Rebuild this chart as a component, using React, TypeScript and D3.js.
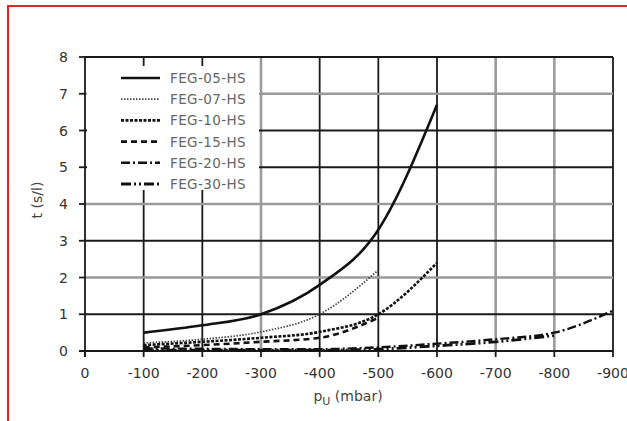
import React, { useEffect, useRef } from 'react'
import * as d3 from 'd3'

// pressure steps (mbar) and measured times t (s/l)
const xTicks = [0, -100, -200, -300, -400, -500, -600, -700, -800, -900]
const yTicks = [0, 1, 2, 3, 4, 5, 6, 7, 8]

const feg05 = [
  { p: -100, t: 0.5 }, { p: -200, t: 0.7 }, { p: -300, t: 1.0 },
  { p: -400, t: 1.8 }, { p: -500, t: 3.3 }, { p: -600, t: 6.7 },
]
const feg07 = [
  { p: -100, t: 0.22 }, { p: -200, t: 0.32 }, { p: -300, t: 0.52 },
  { p: -400, t: 1.0 }, { p: -500, t: 2.2 },
]
const feg10 = [
  { p: -100, t: 0.16 }, { p: -200, t: 0.25 }, { p: -300, t: 0.36 },
  { p: -400, t: 0.52 }, { p: -500, t: 1.0 }, { p: -600, t: 2.4 },
]
const feg15 = [
  { p: -100, t: 0.1 }, { p: -200, t: 0.16 }, { p: -300, t: 0.25 },
  { p: -400, t: 0.36 }, { p: -500, t: 0.9 },
]
const feg20 = [
  { p: -100, t: 0.07 }, { p: -200, t: 0.06 }, { p: -300, t: 0.05 },
  { p: -400, t: 0.05 }, { p: -500, t: 0.1 }, { p: -600, t: 0.2 },
  { p: -700, t: 0.32 }, { p: -800, t: 0.5 }, { p: -900, t: 1.1 },
]
const feg30 = [
  { p: -100, t: 0.03 }, { p: -200, t: 0.02 }, { p: -300, t: 0.02 },
  { p: -400, t: 0.02 }, { p: -500, t: 0.05 }, { p: -600, t: 0.14 },
  { p: -700, t: 0.25 }, { p: -800, t: 0.42 },
]

const seriesNames = ['FEG-05-HS', 'FEG-07-HS', 'FEG-10-HS', 'FEG-15-HS', 'FEG-20-HS', 'FEG-30-HS']
const seriesData = [feg05, feg07, feg10, feg15, feg20, feg30]

// gridlines drawn lighter in the original
const grayX = [-300, -700, -800]
const grayY = [2, 4, 7]

const styles = [
  { dash: null, width: 2.6, color: '#111' },
  { dash: '1.5 1.5', width: 1.7, color: '#444' },
  { dash: '3 1.5', width: 2.6, color: '#111' },
  { dash: '6 4', width: 2.6, color: '#111' },
  { dash: '9 3 2 3', width: 2.4, color: '#111' },
  { dash: '10 3 2 3 2 3', width: 2.8, color: '#111' },
]

export default function App() {
  const svgRef = useRef<SVGSVGElement>(null)
  const width = 627
  const height = 421

  useEffect(() => {
    if (!svgRef.current) return
    const svg = d3.select(svgRef.current)
    svg.selectAll('*').remove()

    const x = d3.scaleLinear().domain([0, -900]).range([85, 613])
    const y = d3.scaleLinear().domain([0, 8]).range([351, 57])
    const font = '"DejaVu Sans", sans-serif'

    // outer red frame
    svg.append('rect')
      .attr('x', 8).attr('y', 6)
      .attr('width', 700).attr('height', 500)
      .attr('fill', 'white')
      .attr('stroke', '#e8202a')
      .attr('stroke-width', 2)

    // grid
    const grid = svg.append('g')
    xTicks.slice(1).forEach(v => {
      const gray = grayX.includes(v)
      grid.append('line')
        .attr('x1', x(v)).attr('x2', x(v))
        .attr('y1', y(8)).attr('y2', y(0))
        .attr('stroke', gray ? '#9a9a9a' : '#1a1a1a')
        .attr('stroke-width', gray ? 2.6 : 1.8)
    })
    yTicks.slice(1).forEach(v => {
      const gray = grayY.includes(v)
      grid.append('line')
        .attr('x1', x(0)).attr('x2', x(-900))
        .attr('y1', y(v)).attr('y2', y(v))
        .attr('stroke', gray ? '#9a9a9a' : '#1a1a1a')
        .attr('stroke-width', gray ? 2.6 : 1.8)
    })

    // axes + ticks
    svg.append('line')
      .attr('x1', x(0)).attr('x2', x(0)).attr('y1', y(8)).attr('y2', y(0) + 6)
      .attr('stroke', '#1a1a1a').attr('stroke-width', 1.8)
    svg.append('line')
      .attr('x1', x(0) - 6).attr('x2', x(-900)).attr('y1', y(0)).attr('y2', y(0))
      .attr('stroke', '#1a1a1a').attr('stroke-width', 1.8)
    yTicks.forEach(v => {
      svg.append('line')
        .attr('x1', x(0) - 6).attr('x2', x(0))
        .attr('y1', y(v)).attr('y2', y(v))
        .attr('stroke', '#1a1a1a').attr('stroke-width', 1.8)
      svg.append('text')
        .attr('x', 68).attr('y', y(v) + 5)
        .attr('text-anchor', 'end')
        .attr('font-family', font).attr('font-size', 14)
        .attr('fill', '#333')
        .text(v)
    })
    xTicks.forEach(v => {
      svg.append('line')
        .attr('x1', x(v)).attr('x2', x(v))
        .attr('y1', y(0)).attr('y2', y(0) + 6)
        .attr('stroke', '#1a1a1a').attr('stroke-width', 1.8)
      svg.append('text')
        .attr('x', x(v)).attr('y', 378)
        .attr('text-anchor', 'middle')
        .attr('font-family', font).attr('font-size', 14)
        .attr('fill', '#333')
        .text(v)
    })

    // axis titles
    const xt = svg.append('text')
      .attr('x', 348).attr('y', 401)
      .attr('text-anchor', 'middle')
      .attr('font-family', font).attr('font-size', 14)
      .attr('fill', '#444')
    xt.append('tspan').text('p')
    xt.append('tspan').attr('font-size', 11).attr('dy', 4).text('U')
    xt.append('tspan').attr('dy', -4).text(' (mbar)')

    svg.append('text')
      .attr('transform', 'translate(42,200) rotate(-90)')
      .attr('text-anchor', 'middle')
      .attr('font-family', font).attr('font-size', 14)
      .attr('fill', '#444')
      .text('t (s/l)')

    // legend
    svg.append('rect')
      .attr('x', 87).attr('y', 66)
      .attr('width', 172).attr('height', 124)
      .attr('fill', 'white')
    seriesNames.forEach((name, i) => {
      const ly = 78 + i * 21.2
      const st = styles[i]
      svg.append('line')
        .attr('x1', 121).attr('x2', 160)
        .attr('y1', ly).attr('y2', ly)
        .attr('stroke', st.color)
        .attr('stroke-width', st.width)
        .attr('stroke-dasharray', st.dash)
      svg.append('text')
        .attr('x', 170).attr('y', ly + 5)
        .attr('font-family', font).attr('font-size', 13.5)
        .attr('letter-spacing', 0.4)
        .attr('fill', '#666')
        .text(name)
    })

    // series
    const line = d3.line<{ p: number; t: number }>()
      .x(d => x(d.p))
      .y(d => y(d.t))
      .curve(d3.curveMonotoneX)
    seriesData.forEach((data, i) => {
      const st = styles[i]
      svg.append('path')
        .attr('d', line(data))
        .attr('fill', 'none')
        .attr('stroke', st.color)
        .attr('stroke-width', st.width)
        .attr('stroke-dasharray', st.dash)
    })
  }, [])

  return (
    <svg
      ref={svgRef}
      width={width}
      height={height}
      style={{ position: 'absolute', left: 0, top: 0, display: 'block' }}
    />
  )
}
